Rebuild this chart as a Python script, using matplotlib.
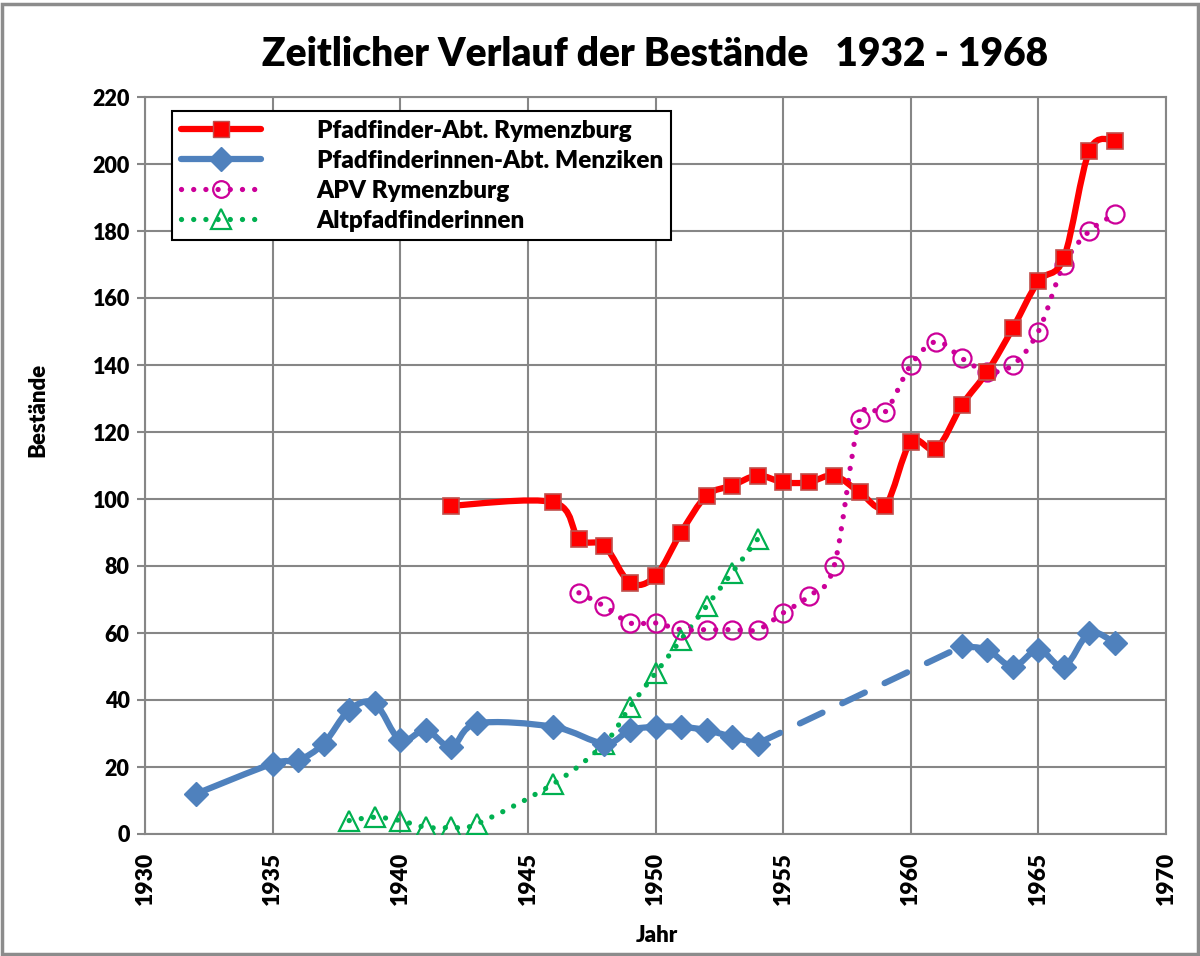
import matplotlib
matplotlib.use("Agg")
import matplotlib.pyplot as plt
from matplotlib.path import Path
from matplotlib.patches import PathPatch, Rectangle
from matplotlib.lines import Line2D
import numpy as np

plt.rcParams['font.family'] = ['Lato', 'DejaVu Sans']
plt.rcParams['font.weight'] = 'heavy'
W = 'heavy'

# ---- data ----
pfadi_years = [1942, 1946, 1947, 1948, 1949, 1950, 1951, 1952, 1953, 1954, 1955, 1956,
               1957, 1958, 1959, 1960, 1961, 1962, 1963, 1964, 1965, 1966, 1967, 1968]
pfadi_vals = [98, 99, 88, 86, 75, 77, 90, 101, 104, 107, 105, 105,
              107, 102, 98, 117, 115, 128, 138, 151, 165, 172, 204, 207]

menz_years_a = [1932, 1935, 1936, 1937, 1938, 1939, 1940, 1941, 1942, 1943, 1946,
                1948, 1949, 1950, 1951, 1952, 1953, 1954]
menz_vals_a = [12, 21, 22, 27, 37, 39, 28, 31, 26, 33, 32,
               27, 31, 32, 32, 31, 29, 27]
menz_years_b = [1962, 1963, 1964, 1965, 1966, 1967, 1968]
menz_vals_b = [56, 55, 50, 55, 50, 60, 57]

apv_years = [1947, 1948, 1949, 1950, 1951, 1952, 1953, 1954, 1955, 1956, 1957,
             1958, 1959, 1960, 1961, 1962, 1963, 1964, 1965, 1966, 1967, 1968]
apv_vals = [72, 68, 63, 63, 61, 61, 61, 61, 66, 71, 80,
            124, 126, 140, 147, 142, 138, 140, 150, 170, 180, 185]

alt_years = [1938, 1939, 1940, 1941, 1942, 1943, 1946, 1948, 1949, 1950, 1951, 1952, 1953, 1954]
alt_vals = [4, 5, 4, 2, 2, 3, 15, 27, 38, 48, 58, 68, 78, 88]

labels = ["Pfadfinder-Abt. Rymenzburg", "Pfadfinderinnen-Abt. Menziken",
          "APV Rymenzburg", "Altpfadfinderinnen"]
title = "Zeitlicher Verlauf der Bestände   1932 - 1968"
xticks = [1930, 1935, 1940, 1945, 1950, 1955, 1960, 1965, 1970]
yticks = [0, 20, 40, 60, 80, 100, 120, 140, 160, 180, 200, 220]

RED, RED_EDGE = "#FF0000", "#C0504D"
BLUE = "#4F81BD"
MAG = "#CC0099"
GREEN = "#00B050"
DOTS = (0, (0.01, 2.3))


def smooth_path(xs, ys):
    """Excel-style smoothed line: Catmull-Rom converted to cubic Bezier segments."""
    p = np.column_stack([xs, ys]).astype(float)
    n = len(p)
    verts = [p[0]]
    codes = [Path.MOVETO]
    for i in range(n - 1):
        p0 = p[i - 1] if i > 0 else p[i]
        p1 = p[i]
        p2 = p[i + 1]
        p3 = p[i + 2] if i + 2 < n else p[i + 1]
        c1 = p1 + (p2 - p0) / 6.0
        c2 = p2 - (p3 - p1) / 6.0
        verts += [c1, c2, p2]
        codes += [Path.CURVE4] * 3
    return Path(verts, codes)


fig = plt.figure(figsize=(12, 9.56), dpi=100)
ax = fig.add_axes([145 / 1200, 1 - 834 / 956, (1166 - 145) / 1200, (834 - 97) / 956])

ax.set_xlim(1930, 1970)
ax.set_ylim(0, 220)
ax.set_xticks(xticks)
ax.set_yticks(yticks)
ax.grid(True, color="#868686", linewidth=1.5)
ax.set_axisbelow(True)
for s in ax.spines.values():
    s.set_color("#868686")
    s.set_linewidth(1.5)
ax.tick_params(axis='y', length=6, width=1.5, color="#868686", labelsize=15.5, pad=5)
ax.tick_params(axis='x', length=0, labelsize=16.5, pad=13, labelrotation=90)
for lab in ax.get_xticklabels() + ax.get_yticklabels():
    lab.set_fontweight(W)

# Altpfadfinderinnen (dotted green)
ax.add_patch(PathPatch(smooth_path(alt_years, alt_vals), fill=False, edgecolor=GREEN,
                       linewidth=3.8, linestyle=DOTS, capstyle='round', zorder=3))
ax.plot(alt_years, alt_vals, linestyle='none', marker='^', markersize=15,
        markerfacecolor='none', markeredgecolor=GREEN, markeredgewidth=1.6, zorder=4)

# APV (dotted magenta)
ax.add_patch(PathPatch(smooth_path(apv_years, apv_vals), fill=False, edgecolor=MAG,
                       linewidth=3.8, linestyle=DOTS, capstyle='round', zorder=3))
ax.plot(apv_years, apv_vals, linestyle='none', marker='o', markersize=13,
        markerfacecolor='none', markeredgecolor=MAG, markeredgewidth=1.6, zorder=4)

# Menziken (blue)
ax.add_patch(PathPatch(smooth_path(menz_years_a, menz_vals_a), fill=False, edgecolor=BLUE,
                       linewidth=4.5, capstyle='round', joinstyle='round', zorder=5))
ax.add_patch(PathPatch(smooth_path(menz_years_b, menz_vals_b), fill=False, edgecolor=BLUE,
                       linewidth=4.5, capstyle='round', joinstyle='round', zorder=5))
ax.plot([menz_years_a[-1], menz_years_b[0]], [menz_vals_a[-1], menz_vals_b[0]],
        color=BLUE, linewidth=4.5, linestyle=(0, (4, 3.5)), dash_capstyle='round', zorder=5)
ax.plot(menz_years_a + menz_years_b, menz_vals_a + menz_vals_b, linestyle='none',
        marker='D', markersize=12, markerfacecolor=BLUE, markeredgecolor=BLUE, zorder=6)

# Pfadfinder (red)
ax.add_patch(PathPatch(smooth_path(pfadi_years, pfadi_vals), fill=False, edgecolor=RED,
                       linewidth=4.5, capstyle='round', joinstyle='round', zorder=7))
ax.plot(pfadi_years, pfadi_vals, linestyle='none', marker='s', markersize=11,
        markerfacecolor=RED, markeredgecolor=RED_EDGE, markeredgewidth=1.2, zorder=8)

# Legend
handles = [
    Line2D([], [], color=RED, linewidth=4.5, marker='s', markersize=11,
           markerfacecolor=RED, markeredgecolor=RED_EDGE, solid_capstyle='round'),
    Line2D([], [], color=BLUE, linewidth=4.5, marker='D', markersize=12,
           markerfacecolor=BLUE, markeredgecolor=BLUE, solid_capstyle='round'),
    Line2D([], [], color=MAG, linewidth=3.8, linestyle=DOTS,
           dash_capstyle='round', marker='o', markersize=12,
           markerfacecolor='none', markeredgecolor=MAG, markeredgewidth=1.6),
    Line2D([], [], color=GREEN, linewidth=3.8, linestyle=DOTS,
           dash_capstyle='round', marker='^', markersize=14,
           markerfacecolor='none', markeredgecolor=GREEN, markeredgewidth=1.6),
]
leg = ax.legend(handles, labels, loc='upper left',
                bbox_to_anchor=((172 - 145) / 1021, 1 - (111 - 97) / 737),
                frameon=True, fancybox=False, edgecolor='black', framealpha=1,
                prop={'weight': W, 'size': 17.5}, handlelength=3.3,
                handletextpad=2.3, labelspacing=0.33, borderpad=0.35, borderaxespad=0)
leg.get_frame().set_linewidth(1.5)
leg.set_zorder(10)

# Titles / labels
fig.text(655 / 1200, 1 - 55 / 956, title, ha='center', va='center',
         fontsize=28, fontweight=W)
fig.text(38 / 1200, 1 - 410 / 956, "Bestände", rotation=90, ha='center', va='center',
         fontsize=16, fontweight=W)
fig.text(657 / 1200, 1 - 935 / 956, "Jahr", ha='center', va='center',
         fontsize=16, fontweight=W)

# Outer chart border
fig.patches.append(Rectangle((0.002, 0.002), 0.996, 0.994, transform=fig.transFigure,
                             fill=False, edgecolor="#8C8C8C", linewidth=2.5))

fig.savefig("out.png", dpi=100)
